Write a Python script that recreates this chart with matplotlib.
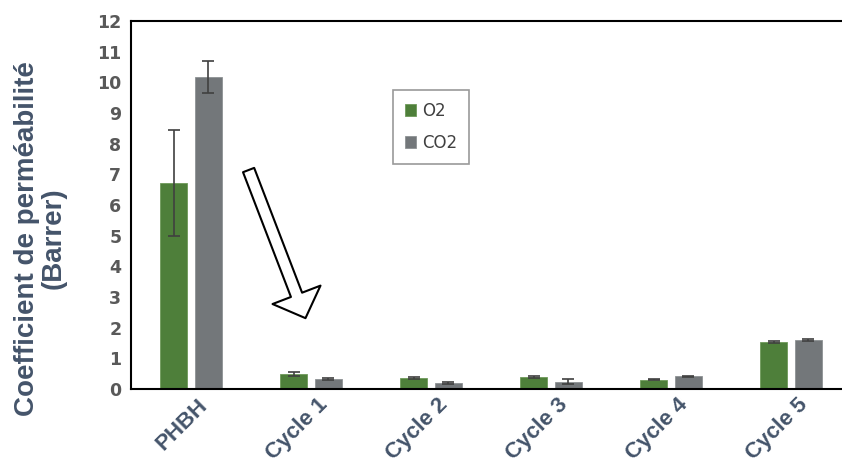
import numpy as np
import matplotlib
matplotlib.use('Agg')
import matplotlib.pyplot as plt

# -------------------- data --------------------
categories = ['PHBH', 'Cycle 1', 'Cycle 2', 'Cycle 3', 'Cycle 4', 'Cycle 5']
o2 = [6.72, 0.49, 0.35, 0.38, 0.30, 1.54]
o2_err = [1.73, 0.07, 0.03, 0.03, 0.02, 0.03]
co2 = [10.17, 0.33, 0.20, 0.24, 0.41, 1.60]
co2_err = [0.52, 0.03, 0.03, 0.09, 0.03, 0.03]
y_ticks = list(range(0, 13))

# -------------------- style --------------------
green = '#4E7F3A'
gray = '#73777A'
label_color = '#44546A'
tick_color = '#595959'

fig = plt.figure(figsize=(8.42, 4.68), dpi=100)
# axes run past the right edge of the figure, as in the reference
ax = fig.add_axes([131 / 842, 79 / 468, 720 / 842, 368 / 468])

x = np.arange(len(categories))
w = 0.225
off = 0.142
ax.bar(x - off, o2, w, color=green, edgecolor='#6E9A5A', linewidth=0.6, label='O2',
       yerr=o2_err, error_kw=dict(ecolor='#404040', elinewidth=1.2, capsize=4.5, capthick=1.2))
ax.bar(x + off, co2, w, color=gray, edgecolor='#8E9294', linewidth=0.6, label='CO2',
       yerr=co2_err, error_kw=dict(ecolor='#404040', elinewidth=1.2, capsize=4.5, capthick=1.2))

ax.set_xlim(-0.5, 5.5)
ax.set_ylim(0, 12)
ax.set_yticks(y_ticks)
ax.set_yticklabels([str(t) for t in y_ticks], fontsize=12.5, fontweight='bold',
                   color=tick_color, family='DejaVu Sans')
ax.tick_params(axis='y', length=0, pad=7)
ax.tick_params(axis='x', length=0, pad=4)
ax.set_xticks(x + 0.05)
ax.set_xticklabels(categories, rotation=45, ha='right', rotation_mode='anchor',
                   fontsize=16, fontweight='bold', color=label_color, family='Liberation Sans')

for s in ['left', 'top', 'bottom', 'right']:
    ax.spines[s].set_linewidth(1.5)
    ax.spines[s].set_color('black')

ax.set_ylabel('Coefficient de perméabilité\n(Barrer)', fontsize=20, fontweight='bold',
              color=label_color, family='Liberation Sans', linespacing=1.05)
ax.yaxis.set_label_coords(-0.089, 0.41)

leg = ax.legend(loc='upper left', bbox_to_anchor=(393 / 842, 1 - 90 / 468),
                bbox_transform=fig.transFigure, frameon=True, fancybox=False,
                handlelength=0.7, handleheight=0.7, handletextpad=0.35,
                labelspacing=0.85, borderpad=0.7, borderaxespad=0,
                prop={'family': 'DejaVu Sans', 'size': 12})
leg.get_frame().set_edgecolor('#808080')
leg.get_frame().set_linewidth(1.2)
for t in leg.get_texts():
    t.set_color('#404040')

# hollow arrow showing the drop after the first cycle
ax.annotate('', xy=(0.954, 2.31), xytext=(0.48, 7.14),
            arrowprops=dict(arrowstyle='simple,head_length=0.9,head_width=1.85,tail_width=0.43',
                            mutation_scale=20, shrinkA=0, shrinkB=0,
                            fc='white', ec='black', lw=1.5))

fig.savefig('out.png', dpi=100)
